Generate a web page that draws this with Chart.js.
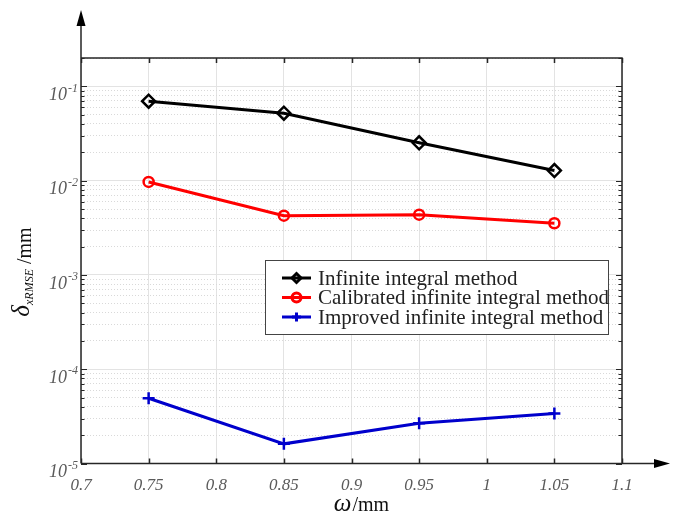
<!DOCTYPE html>
<html>
<head>
<meta charset="utf-8">
<script src="https://cdn.jsdelivr.net/npm/chart.js@4.4.1/dist/chart.umd.min.js"></script>
<style>
  html, body { margin: 0; padding: 0; background: #fff; }
  #wrap { width: 686px; height: 513px; }
</style>
</head>
<body>
<div id="wrap"><canvas id="chart" width="686" height="513"></canvas></div>
<script>
// data
const xValues = [0.75, 0.85, 0.95, 1.05];
const infiniteIntegral = [0.0697, 0.0520, 0.0252, 0.0128];
const calibratedIntegral = [0.0097, 0.00426, 0.00436, 0.00354];
const improvedIntegral = [4.93e-5, 1.62e-5, 2.68e-5, 3.39e-5];
const seriesNames = ["Infinite integral method", "Calibrated infinite integral method", "Improved infinite integral method"];

const xTicks = [0.7, 0.75, 0.8, 0.85, 0.9, 0.95, 1, 1.05, 1.1];
const xTickLabels = ["0.7", "0.75", "0.8", "0.85", "0.9", "0.95", "1", "1.05", "1.1"];
const yExponents = [-5, -4, -3, -2, -1];
const yMin = 1e-5, yMax = 0.2;

const majorVals = yExponents.map(e => Math.pow(10, e));
const minorVals = [];
yExponents.forEach(e => {
  for (let k = 2; k <= 9; k++) {
    const v = k * Math.pow(10, e);
    if (v <= yMax * 1.0001) minorVals.push(v);
  }
});

const AXIS = "#262626";

// frame, arrows, inward ticks, log labels, titles and legend
const decorations = {
  id: "decorations",
  afterDraw(chart) {
    const { ctx, chartArea: a, scales: { x, y } } = chart;
    ctx.save();
    ctx.strokeStyle = AXIS;
    ctx.lineWidth = 1.5;
    ctx.beginPath();
    ctx.moveTo(a.left, a.bottom); ctx.lineTo(a.left, 24);
    ctx.moveTo(a.left, a.top); ctx.lineTo(a.right, a.top); ctx.lineTo(a.right, a.bottom);
    ctx.moveTo(a.left, a.bottom); ctx.lineTo(656, a.bottom);
    // x ticks (inward, top and bottom)
    xTicks.forEach(v => {
      const px = Math.round(x.getPixelForValue(v)) + 0.5;
      ctx.moveTo(px, a.bottom); ctx.lineTo(px, a.bottom - 5);
      ctx.moveTo(px, a.top); ctx.lineTo(px, a.top + 5);
    });
    ctx.stroke();
    ctx.lineWidth = 1.2;
    ctx.beginPath();
    majorVals.concat(minorVals).forEach(v => {
      const py = Math.round(y.getPixelForValue(v)) + 0.5;
      const len = majorVals.includes(v) ? 6 : 3.5;
      ctx.moveTo(a.left, py); ctx.lineTo(a.left + len, py);
      ctx.moveTo(a.right, py); ctx.lineTo(a.right - len, py);
    });
    ctx.stroke();

    // arrowheads
    ctx.fillStyle = "#000";
    ctx.beginPath();
    ctx.moveTo(a.left, 10); ctx.lineTo(a.left - 4.5, 26); ctx.lineTo(a.left + 4.5, 26);
    ctx.closePath(); ctx.fill();
    ctx.beginPath();
    ctx.moveTo(670, a.bottom); ctx.lineTo(654, a.bottom - 4.5); ctx.lineTo(654, a.bottom + 4.5);
    ctx.closePath(); ctx.fill();

    // y tick labels 10^n
    ctx.fillStyle = "#5a5a5a";
    ctx.textBaseline = "middle";
    yExponents.forEach(e => {
      const py = y.getPixelForValue(Math.pow(10, e));
      ctx.font = 'italic 18px "Liberation Serif"';
      ctx.textAlign = "right";
      ctx.fillText("10", 67, py + 9);
      ctx.font = 'italic 12px "Liberation Serif"';
      ctx.textAlign = "left";
      ctx.fillText(String(e), 68, py + 2);
    });

    // x title
    ctx.fillStyle = "#111";
    ctx.textBaseline = "alphabetic";
    ctx.textAlign = "left";
    ctx.font = 'italic 25px "Liberation Serif"';
    const wOmega = ctx.measureText("\u03C9").width;
    ctx.font = '20px "Liberation Serif"';
    const wMm = ctx.measureText("/mm").width;
    let sx = 361 - (wOmega + wMm) / 2;
    ctx.font = 'italic 25px "Liberation Serif"';
    ctx.fillText("\u03C9", sx, 511);
    ctx.font = '20px "Liberation Serif"';
    ctx.fillText("/mm", sx + wOmega + 1, 511);

    // y title (rotated)
    ctx.save();
    ctx.translate(31, 272);
    ctx.rotate(-Math.PI / 2);
    ctx.font = 'italic 25px "Liberation Serif"';
    const wD = ctx.measureText("\u03B4").width;
    ctx.font = 'italic 12px "Liberation Serif"';
    const wSub = ctx.measureText("xRMSE").width;
    ctx.font = '20px "Liberation Serif"';
    const wUnit = ctx.measureText(" /mm").width;
    let tx = -(wD + wSub + wUnit) / 2;
    ctx.font = 'italic 25px "Liberation Serif"';
    ctx.fillText("\u03B4", tx, -2); tx += wD;
    ctx.font = 'italic 12px "Liberation Serif"';
    ctx.fillText("xRMSE", tx, 2); tx += wSub;
    ctx.font = '20px "Liberation Serif"';
    ctx.fillText(" /mm", tx, 0);
    ctx.restore();

    // legend box
    const lx = 265, ly = 260, lw = 343, lh = 74;
    ctx.fillStyle = "#fff";
    ctx.fillRect(lx, ly, lw, lh);
    ctx.strokeStyle = "#444";
    ctx.lineWidth = 1;
    ctx.strokeRect(lx + 0.5, ly + 0.5, lw, lh);
    const rows = [278, 297.5, 317];
    chart.data.datasets.forEach((ds, i) => {
      const ry = rows[i];
      ctx.strokeStyle = ds.borderColor;
      ctx.lineWidth = 3;
      ctx.beginPath();
      ctx.moveTo(282, ry); ctx.lineTo(311, ry);
      ctx.stroke();
      ctx.fillStyle = "rgba(255,255,255,0)";
      Chart.helpers.drawPoint(ctx, {
        pointStyle: ds.pointStyle, radius: 4.5, borderWidth: 2.5, rotation: 0
      }, 296.5, ry);
      ctx.fillStyle = "#222";
      ctx.font = '21px "Liberation Serif"';
      ctx.textBaseline = "middle";
      ctx.textAlign = "left";
      ctx.fillText(ds.label, 318, ry + 1);
    });
    ctx.restore();
  }
};

new Chart(document.getElementById("chart"), {
  type: "line",
  data: {
    datasets: [
      {
        label: seriesNames[0],
        data: xValues.map((v, i) => ({ x: v, y: infiniteIntegral[i] })),
        borderColor: "#000000",
        backgroundColor: "#000000",
        pointStyle: "rectRot",
        pointRadius: 6.5,
        pointBorderWidth: 2.5,
        pointBackgroundColor: "rgba(255,255,255,0)",
        borderWidth: 3,
      },
      {
        label: seriesNames[1],
        data: xValues.map((v, i) => ({ x: v, y: calibratedIntegral[i] })),
        borderColor: "#ff0000",
        backgroundColor: "#ff0000",
        pointStyle: "circle",
        pointRadius: 5,
        pointBorderWidth: 2.5,
        pointBackgroundColor: "rgba(255,255,255,0)",
        borderWidth: 3,
      },
      {
        label: seriesNames[2],
        data: xValues.map((v, i) => ({ x: v, y: improvedIntegral[i] })),
        borderColor: "#0000cc",
        backgroundColor: "#0000cc",
        pointStyle: "cross",
        pointRadius: 6,
        pointBorderWidth: 2.5,
        borderWidth: 3,
      },
    ],
  },
  options: {
    responsive: false,
    animation: false,
    layout: { padding: { left: 81, right: 64, top: 58, bottom: 5 } },
    plugins: { legend: { display: false }, tooltip: { enabled: false } },
    scales: {
      x: {
        type: "linear",
        min: 0.7,
        max: 1.1,
        afterBuildTicks: (s) => { s.ticks = xTicks.map(v => ({ value: v })); },
        grid: { color: "#e3e3e3", lineWidth: 1, drawTicks: false },
        border: { display: false },
        ticks: {
          padding: 12,
          maxRotation: 0,
          autoSkip: false,
          color: "#5a5a5a",
          font: { family: "Liberation Serif", size: 17, style: "italic" },
          callback: (v, i) => xTickLabels[i],
        },
      },
      y: {
        type: "logarithmic",
        min: yMin,
        max: yMax,
        afterBuildTicks: (s) => { s.ticks = minorVals.map(v => ({ value: v })); },
        grid: { color: "#d9d9d9", lineWidth: 1, drawTicks: false },
        border: { display: false, dash: [1, 2] },
        ticks: { display: false },
      },
      yMajor: {
        type: "logarithmic",
        position: "left",
        min: yMin,
        max: yMax,
        afterBuildTicks: (s) => { s.ticks = majorVals.map(v => ({ value: v })); },
        grid: { color: "#e3e3e3", lineWidth: 1, drawTicks: false },
        border: { display: false },
        ticks: { display: false },
      },
    },
  },
  plugins: [decorations],
});
</script>
</body>
</html>
